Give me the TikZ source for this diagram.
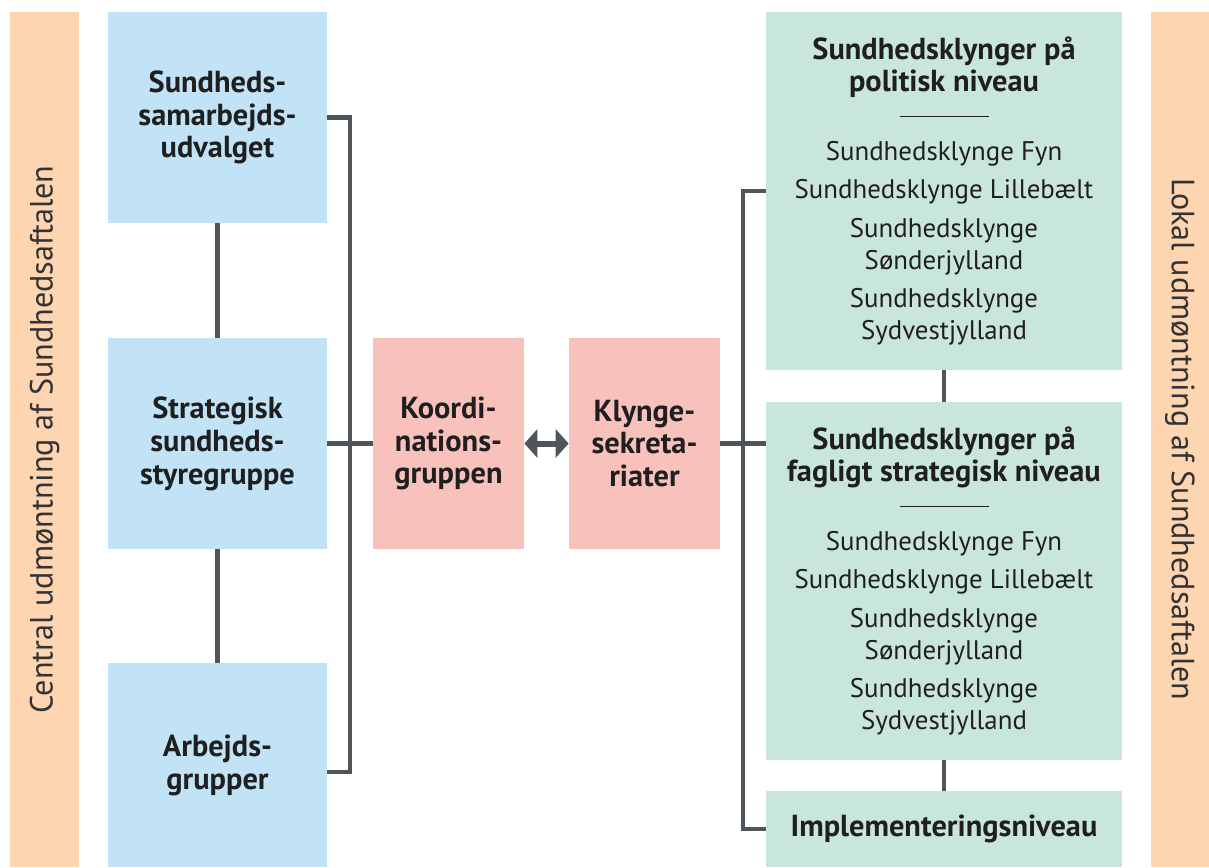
\documentclass[tikz,border=0pt]{standalone}
\usepackage{fontspec}
\setmainfont{PT Sans}
\usetikzlibrary{arrows.meta}
\definecolor{barorange}{HTML}{FDD6B1}
\definecolor{centralblue}{HTML}{C2E3F6}
\definecolor{koordpink}{HTML}{F8C1BB}
\definecolor{klyngegreen}{HTML}{C9E6DD}
\definecolor{linegray}{HTML}{4F565B}
\newcommand{\klyngehead}{\fontsize{17.3}{18.7}\selectfont\bfseries}

\begin{document}
\begin{tikzpicture}[x=0.02cm, y=-0.02cm,
	box/.style={rectangle, inner sep=0pt, align=center, text=black!88, font=\fontsize{15.3}{18}\selectfont},
	bar/.style={box, fill=barorange, minimum width=17.1cm, font=\fontsize{18.3}{20}\selectfont, text=black!80},
	central/.style={box, fill=centralblue, minimum width=4.38cm, minimum height=4.22cm, font=\klyngehead},
	middle/.style={box, fill=koordpink, minimum width=3.02cm, minimum height=4.22cm, font=\klyngehead},
	cluster/.style={box, fill=klyngegreen, minimum width=7.12cm, minimum height=7.16cm},
	link/.style={draw=linegray, line width=2.3pt}]
	\useasboundingbox (0,0) rectangle (1209,867);

	\node[bar, rotate=90, minimum height=1.38cm] (central) at (44.5,439.5) {Central udmøntning af Sundhedsaftalen};
	\node[bar, rotate=-90, minimum height=1.16cm] (lokal) at (1180,439.5) {Lokal udmøntning af Sundhedsaftalen};

	\node[central] (samarbejd) at (217.5,117.5) {Sundheds-\\samarbejds-\\udvalget};
	\node[central] (styre) at (217.5,443.5) {Strategisk\\sundheds-\\styregruppe};
	\node[central, minimum height=4.08cm] (arbejd) at (217.5,765) {Arbejds-\\grupper};

	\node[middle] (koord) at (448.5,443.5) {Koordi-\\nations-\\gruppen};
	\node[middle] (klynge) at (644.5,443.5) {Klynge-\\sekreta-\\riater};

	\node[cluster] (politisk) at (944,191) {{\klyngehead Sundhedsklynger på}\\{\klyngehead politisk niveau}\\[1.7pt]\rule[5pt]{1.78cm}{0.7pt}\\[1.7pt]
		Sundhedsklynge Fyn\\[4pt]Sundhedsklynge Lillebælt\\[4pt]Sundhedsklynge\\Sønderjylland\\[4pt]Sundhedsklynge\\Sydvestjylland};
	\node[cluster] (faglig) at (944,581) {{\klyngehead Sundhedsklynger på}\\{\klyngehead fagligt strategisk niveau}\\[1.7pt]\rule[5pt]{1.78cm}{0.7pt}\\[1.7pt]
		Sundhedsklynge Fyn\\[4pt]Sundhedsklynge Lillebælt\\[4pt]Sundhedsklynge\\Sønderjylland\\[4pt]Sundhedsklynge\\Sydvestjylland};
	\node[cluster, minimum height=1.52cm, font=\klyngehead] (implement) at (944,829) {Implementeringsniveau};

	% forbindelser
	\draw[link] (samarbejd) -- (styre);
	\draw[link] (styre) -- (arbejd);
	\draw[link] (samarbejd.east) -- ++(23,0) |- ([yshift=-4] arbejd.east);
	\draw[link] (styre) -- (koord);
	\draw[linegray, line width=0.12cm, {Triangle[length=0.26cm,width=0.56cm]}-{Triangle[length=0.26cm,width=0.56cm]}] (koord) -- (klynge);
	\draw[link] (klynge) -- (klynge -| faglig.west);
	\draw[link] (politisk.west) -- ++(-23,0) |- (implement.west);
	\draw[link] (politisk) -- (faglig);
	\draw[link] (faglig) -- (implement);
\end{tikzpicture}
\end{document}
